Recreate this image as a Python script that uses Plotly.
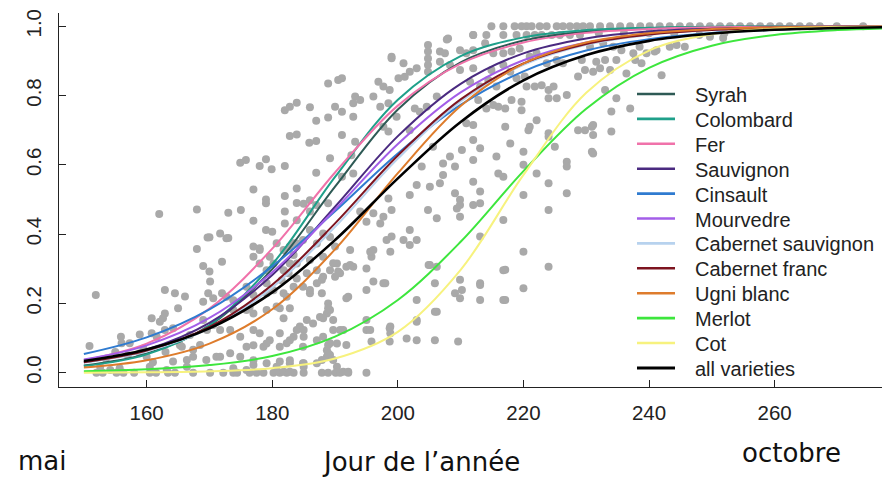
import plotly.graph_objects as go

# ---------------- data ----------------
days = [150, 160, 170, 180, 190, 200, 210, 220, 230, 240, 250, 260, 270, 280]

varieties = ["Syrah", "Colombard", "Fer", "Sauvignon", "Cinsault", "Mourvedre",
             "Cabernet sauvignon", "Cabernet franc", "Ugni blanc", "Merlot", "Cot",
             "all varieties"]

syrah      = [0.021, 0.055, 0.136, 0.299, 0.537, 0.760, 0.896, 0.959, 0.985, 0.994, 0.998, 0.999, 1.000, 1.000]
colombard  = [0.019, 0.053, 0.137, 0.313, 0.565, 0.788, 0.914, 0.968, 0.989, 0.996, 0.999, 1.000, 1.000, 1.000]
fer        = [0.036, 0.084, 0.185, 0.358, 0.578, 0.771, 0.892, 0.953, 0.981, 0.992, 0.997, 0.999, 1.000, 1.000]
sauvignon  = [0.030, 0.067, 0.144, 0.282, 0.479, 0.683, 0.834, 0.922, 0.965, 0.985, 0.993, 0.997, 0.999, 1.000]
cinsault   = [0.054, 0.102, 0.183, 0.307, 0.466, 0.633, 0.773, 0.870, 0.930, 0.963, 0.981, 0.990, 0.995, 0.998]
mourvedre  = [0.038, 0.079, 0.158, 0.290, 0.471, 0.660, 0.809, 0.902, 0.953, 0.978, 0.990, 0.995, 0.998, 0.999]
cab_sauv   = [0.029, 0.062, 0.128, 0.246, 0.421, 0.618, 0.783, 0.889, 0.947, 0.975, 0.989, 0.995, 0.998, 0.999]
cab_franc  = [0.030, 0.064, 0.132, 0.254, 0.431, 0.627, 0.789, 0.893, 0.949, 0.976, 0.989, 0.995, 0.998, 0.999]
ugni_blanc = [0.015, 0.036, 0.084, 0.183, 0.356, 0.576, 0.770, 0.892, 0.953, 0.980, 0.992, 0.997, 0.999, 1.000]
merlot     = [0.004, 0.010, 0.022, 0.048, 0.104, 0.210, 0.378, 0.582, 0.762, 0.880, 0.944, 0.975, 0.989, 0.995]
cot        = [0.000, 0.001, 0.004, 0.013, 0.041, 0.118, 0.297, 0.571, 0.808, 0.930, 0.977, 0.993, 0.998, 0.999]
all_var    = [0.034, 0.067, 0.128, 0.232, 0.383, 0.561, 0.724, 0.844, 0.917, 0.958, 0.979, 0.990, 0.995, 0.998]

series = [syrah, colombard, fer, sauvignon, cinsault, mourvedre,
          cab_sauv, cab_franc, ugni_blanc, merlot, cot, all_var]

colors = ["#2E5A55", "#1FA08A", "#F072AA", "#4A2A80", "#2F7BD0", "#A35EE8",
          "#B7D2EE", "#7D1420", "#DE7C2C", "#3DE63D", "#F7F27E", "#000000"]

obs = [
    # x < 170
    (150.9,0.077),(151.9,0.224),(155.9,0.104),(156,0.085),(158.9,0.11),(160.8,0.157),(162.6,0.157),
    (162.1,0.147),(162.9,0.239),(164.5,0.229),(166.1,0.22),(165,0.186),(162.9,0.171),(162,0.458),
    (168,0.471),(169.7,0.39),(168,0.357),(169,0.308),(170,0.292),(170.1,0.263),(162.9,0.123),
    (164.2,0.128),(160.8,0.114),(161.6,0.104),(157.3,0.085),(158.9,0.056),(160,0.046),(165.3,0.079),
    (166.9,0.109),(165.6,0.075),(167.4,0.066),(168.5,0.08),(169,0.152),(169.6,0.123),(167.4,0.046),
    (169.5,0.037),(164.2,0.032),(166.4,0.037),(152.6,0.017),(154.2,0.008),(155.7,0.013),(160.5,0.017),
    (163.2,0.008),(166.4,0.017),(152,0),(155.2,0),(156.3,0),(160.5,0),(163.4,0),(167.4,0),(170.1,0),
    (153,0),(158,0),(161.5,0),(164.5,0),(153.5,0.04),(157,0.05),(159.5,0.07),(161,0.03),(163,0.06),
    (155,0.06),
    # 170-184 low
    (170.6,0.138),(171.7,0.123),(173.3,0.123),(171.1,0.046),(173.3,0.056),(174.9,0.046),(174.9,0.104),
    (177,0.123),(178,0.114),(175.9,0.075),(178.6,0.075),(179.6,0.094),(181.2,0.114),(182.3,0.085),
    (183.4,0.104),(183.9,0.123),(173.8,0.181),(175.9,0.181),(177,0.171),(179.1,0.181),(180.7,0.191),
    (177,0.224),(179.1,0.229),(181.8,0.229),(183.4,0.248),(177,0.364),(178,0.354),(179.6,0.335),
    (180.7,0.374),(183.4,0.374),(183.4,0.34),(172,0.229),(170.6,0.215),(169,0.205),(171.7,0.046),
    (177,0.022),(180.7,0.017),(182.8,0.027),(173.8,0.013),(175.9,0.008),(172,0.32),(171.7,0.402),
    (173,0.389),(172.2,0),(173.8,0),(174.4,0),(176.4,0),(177.5,0),(178.6,0),(180.2,0),(181.2,0),
    (182.3,0),(183.4,0),
    # 170-191 mid/high
    (188.9,0.835),(190.5,0.845),(182,0.758),(182.8,0.768),(183.9,0.779),(186,0.766),(187,0.727),
    (188.9,0.737),(182.8,0.683),(183.9,0.688),(185.9,0.664),(187,0.669),(174.9,0.606),(175.8,0.614),
    (178,0.597),(179,0.616),(179.9,0.587),(182,0.597),(187,0.577),(177,0.529),(179,0.5),(179,0.489),
    (182,0.51),(183.9,0.532),(173,0.462),(175,0.47),(177,0.439),(179,0.412),(180,0.407),(170,0.391),
    (172.7,0.388),(178,0.359),(177,0.335),(182,0.465),(183.9,0.49),(185,0.488),(186,0.498),(186,0.465),
    (187,0.484),(188.9,0.489),(182,0.431),(183.9,0.44),(186,0.412),(169.8,0.229),(172.7,0.219),
    (173.8,0.209),(175.9,0.248),(176.4,0.19),(179.1,0.258),(180.2,0.238),(181.5,0.267),(182.3,0.219),
    (183.9,0.272),(184.9,0.248),(186,0.229),(187.1,0.258),(188.1,0.277),(189.2,0.296),(190.3,0.315),
    (186,0.325),(187.1,0.296),(183.9,0.315),(188.1,0.335),(189.2,0.392),(190,0.364),(188.1,0.402),
    (187.1,0.373),(184.9,0.383),(183.9,0.373),(182.8,0.364),(181.8,0.354),(180.2,0.315),(179.1,0.296),
    (178,0.315),(181.8,0.296),(182.8,0.315),(184.4,0.133),(185.5,0.152),(186.5,0.142),(187.6,0.161),
    (188.7,0.171),(189.7,0.152),(188.9,0.2),(189.2,0.181),(189.7,0.123),(177,0.079),(179.1,0.084),
    (181.2,0.075),(182.8,0.094),(184.9,0.075),(187.1,0.094),(188.7,0.065),(190.3,0.084),(177,0.036),
    (179.1,0.027),(181.2,0.032),(182.8,0.036),(184.9,0.027),(187.1,0.027),(188.7,0.046),(190.3,0.017),
    (185,0),(187.9,0),(188.9,0),(190.1,0),(190.8,0),(192.1,0),(195,0),
    # 189-212
    (191.1,0.85),(199,0.912),(204.8,0.946),(204.8,0.927),(204.8,0.907),(204.8,0.888),(204.8,0.869),
    (208,0.965),(206.7,0.927),(207.5,0.922),(206.7,0.898),(208.3,0.888),(209.9,0.931),(210.9,0.922),
    (200.9,0.893),(201.9,0.869),(203,0.879),(200.1,0.85),(201.1,0.854),(196.9,0.84),(197.7,0.826),
    (198.7,0.816),(193.2,0.797),(192.9,0.778),(194,0.787),(196.1,0.797),(197.2,0.768),(198.5,0.778),
    (190,0.768),(191.1,0.753),(192.9,0.739),(191.1,0.686),(189.2,0.619),(193.2,0.667),(192.6,0.628),
    (191.1,0.566),(192.9,0.575),(197.7,0.71),(198.5,0.696),(199.8,0.739),(201.9,0.7),(202.7,0.763),
    (203.5,0.753),(204.6,0.768),(206.2,0.797),(203.8,0.595),(205.6,0.652),(207.2,0.604),(208.3,0.624),
    (207.2,0.571),(209.1,0.595),(210.2,0.643),(203,0.542),(201.9,0.513),(205.1,0.537),(206.7,0.547),
    (209.1,0.518),(209.9,0.499),(198.5,0.503),(199,0.47),(197.7,0.45),(196.1,0.46),(197.2,0.431),
    (195,0.436),(194,0.465),(201.9,0.412),(200.9,0.383),(199,0.393),(198.2,0.383),(196.1,0.354),
    (195.8,0.335),(192.4,0.354),(192.9,0.306),(191.8,0.306),(190.5,0.292),(190,0.277),(189.7,0.316),
    (204.8,0.47),(206.2,0.446),(209.9,0.484),(209.4,0.474),(201.9,0.369),(203,0.383),(205.1,0.311),
    (206.2,0.306),(197.7,0.258),(196.1,0.263),(195,0.239),(192.1,0.219),(209.9,0.268),(210.2,0.239),
    (209.1,0.229),(203,0.21),(206.2,0.176),(203,0.147),(201.4,0.099),(198.7,0.128),(198.7,0.09),
    (195.8,0.09),(191.3,0.123),(195,0.123),(205.9,0.094),(209.6,0.09),(189.2,0.051),(189.7,0.037),
    (191.3,0.003),(192.1,0.003),(189.2,0.085),
    # lower band 181-225
    (195.6,0.349),(198.8,0.349),(192.4,0.311),(190.8,0.287),(185.5,0.287),(182.6,0.287),(186,0.239),
    (187.9,0.268),(195,0.301),(198,0.258),(204.9,0.311),(205.9,0.258),(213.1,0.258),(213.1,0.21),
    (217.1,0.297),(217.1,0.21),(220,0.349),(220,0.244),(224,0.306),(191.8,0.215),(187.9,0.229),
    (188.9,0.186),(188.1,0.157),(181.8,0.157),(181.2,0.186),(182.8,0.186),(195,0.152),(195.6,0.123),
    (198.8,0.133),(198.8,0.114),(203,0.152),(205.9,0.176),(203,0.094),(190.8,0.123),(185,0.123),
    (185,0.104),(191.8,0.08),(188.1,0.104),(188.9,0.08),(187.9,0.037),(188.9,0.056),(185,0.027),
    (185,0.017),(181.8,0.003),(182.8,0.003),(199,0.908),(207.8,0.962),(212,0.975),
    # 210-232
    (214.9,1),(216.8,1),(218.6,1),(219.7,1),(220.5,1),(221.3,1),(222.6,1),(223.7,1),(225.3,1),
    (226.3,1),(227.4,1),(228.5,1),(229.5,1),
    (212,0.975),(214.1,0.975),(216.8,0.975),(218.9,0.975),(220.5,0.975),(221.8,0.975),(222.9,0.975),
    (224.5,0.975),(225.8,0.975),(227.4,0.975),(229,0.975),
    (212,0.931),(213.9,0.951),(215.2,0.922),(216.8,0.922),(218.1,0.927),(219.4,0.936),(221,0.912),
    (222.1,0.922),(223.7,0.893),(225.3,0.903),(226.3,0.893),(229.3,0.903),(209.9,0.874),(212,0.879),
    (214.9,0.874),(216.8,0.888),(217.9,0.869),(218.9,0.85),(211.5,0.84),(213.1,0.826),(214.4,0.845),
    (215.7,0.826),(220.2,0.855),(220.5,0.826),(221.8,0.826),(222.9,0.83),(224,0.816),(224.8,0.826),
    (224,0.792),(225.3,0.792),(226.9,0.802),(228.7,0.855),(229.8,0.874),(231.1,0.869),(232.2,0.879),
    (212.8,0.787),(214.1,0.763),(215.2,0.773),(216,0.768),(217.1,0.763),(218.1,0.787),(219.7,0.782),
    (219.7,0.758),(210.9,0.72),(212,0.715),(217.1,0.71),(221,0.71),(222.1,0.729),(220.8,0.7),
    (224,0.691),(224,0.681),(225,0.652),(228.7,0.7),(229.8,0.7),(230.9,0.71),(230.9,0.638),
    (212,0.672),(213.1,0.648),(215.7,0.624),(217.9,0.662),(220,0.638),(220,0.6),(222.1,0.575),
    (224,0.547),(226.9,0.609),(226.9,0.595),(226.9,0.518),(212,0.614),(216.8,0.566),(216,0.575),
    (212,0.551),(213.1,0.523),(212,0.484),(213.1,0.489),(209.9,0.45),(220,0.513),(224,0.47),
    (216.8,0.441),(213.1,0.393),(216.8,0.296),(213.1,0.253),(209.9,0.215),(216.8,0.21),
    # 230-256
    (230.6,1),(232.2,1),(233.8,1),(235.4,1),(237,1),(238.6,1),(240.1,1),(241.7,1),(243.3,1),
    (244.9,1),(246.5,1),(248.1,1),(249.7,1),(251.3,1),(252.9,1),(254.5,1),
    (230.6,0.941),(232.7,0.951),(234.3,0.941),(235.6,0.931),(237.5,0.922),(238.5,0.941),(239.6,0.922),
    (241.2,0.931),(243.3,0.941),(244.4,0.946),(245.7,0.941),(231.6,0.898),(233,0.903),(233.8,0.874),
    (234.8,0.903),(236.4,0.864),(237.8,0.903),(238.8,0.893),(240.9,0.927),(242,0.859),(233,0.816),
    (234.8,0.792),(237,0.763),(234,0.754),(231.1,0.715),(231.1,0.686),(234,0.696),(231.1,0.633),
    (232,0.98),(236,0.98),(240,0.98),(244,0.98),(248,0.975),(252,0.98),
    # > 255
    (256.1,1),(257.7,1),(259.3,1),(260.8,1),(262.4,1),(264,1),(265.6,1),(267.2,1),(269.9,1),(274.1,1),
    (249.7,0.97),(251.8,0.966),
]
obs_day = [d for d, p in obs]
obs_prop = [p for d, p in obs]

y_ticks = [0.0, 0.2, 0.4, 0.6, 0.8, 1.0]
y_tick_text = ["0.0", "0.2", "0.4", "0.6", "0.8", "1.0"]
x_ticks = [160, 180, 200, 220, 240, 260]

# ---------------- layout geometry (pixels) ----------------
W, H = 882, 478
ML, MR, MT, MB = 59, 0, 13, 91
PW, PH = W - ML - MR, H - MT - MB


def px_to_paper(px, py):
    return (px - ML) / PW, (H - MB - py) / PH


# ---------------- figure ----------------
fig = go.Figure()
fig.add_trace(go.Scatter(
    x=obs_day, y=obs_prop, mode="markers", showlegend=False, hoverinfo="skip",
    marker=dict(size=8, color="#A9A9A9", line=dict(width=0)),
))
for name, vals, col in zip(varieties, series, colors):
    fig.add_trace(go.Scatter(
        x=days, y=vals, mode="lines", name=name, showlegend=False,
        line=dict(color=col, width=2.6 if name == "all varieties" else 2, shape="spline"),
    ))

axis_font = dict(family="Liberation Sans, Arial, sans-serif", size=20.5, color="#222")
fig.update_xaxes(
    range=[146.04, 277.1], tickvals=x_ticks, showgrid=False, zeroline=False,
    showline=True, linecolor="#222", linewidth=1.3, ticks="inside", ticklen=7,
    tickcolor="#222", tickwidth=1.3, tickfont=axis_font, ticklabelstandoff=7,
    automargin=False,
)
fig.update_yaxes(
    range=[-0.0413, 1.0384], tickvals=y_ticks, ticktext=y_tick_text, tickangle=-90,
    showgrid=False, zeroline=False, showline=True, linecolor="#222", linewidth=1.3,
    ticks="inside", ticklen=7, tickcolor="#222", tickwidth=1.3, tickfont=axis_font,
    ticklabelstandoff=9, automargin=False,
)

# legend drawn as shapes + texts (R-style inset legend)
shapes = []
annotations = []
leg_font = dict(family="Liberation Sans, Arial, sans-serif", size=20, color="#222")
for i, (name, col) in enumerate(zip(varieties, colors)):
    yc = 94 + 24.9 * i
    x0, y0 = px_to_paper(637, yc)
    x1, _ = px_to_paper(675, yc)
    shapes.append(dict(type="line", xref="paper", yref="paper", x0=x0, x1=x1, y0=y0, y1=y0,
                       line=dict(color=col, width=3 if name == "all varieties" else 2.6)))
    tx, ty = px_to_paper(693, yc + 1)
    annotations.append(dict(text=name, xref="paper", yref="paper", x=tx, y=ty,
                            xanchor="left", yanchor="middle", showarrow=False, font=leg_font))

lab_font = dict(family="DejaVu Sans", size=26, color="#111")
for text, cx, cy in [("mai", 42, 461), ("Jour de l’année", 421, 462), ("octobre", 791, 453)]:
    ax, ay = px_to_paper(cx, cy)
    annotations.append(dict(text=text, xref="paper", yref="paper", x=ax, y=ay,
                            xanchor="center", yanchor="middle", showarrow=False, font=lab_font))

fig.update_layout(
    width=W, height=H, autosize=False,
    margin=dict(l=ML, r=MR, t=MT, b=MB, autoexpand=False),
    paper_bgcolor="white", plot_bgcolor="white",
    showlegend=False,
    shapes=shapes, annotations=annotations,
)

fig.write_html("out.html", config={"displayModeBar": False},
               post_script="document.body.style.margin='0';document.body.style.overflow='hidden';")
